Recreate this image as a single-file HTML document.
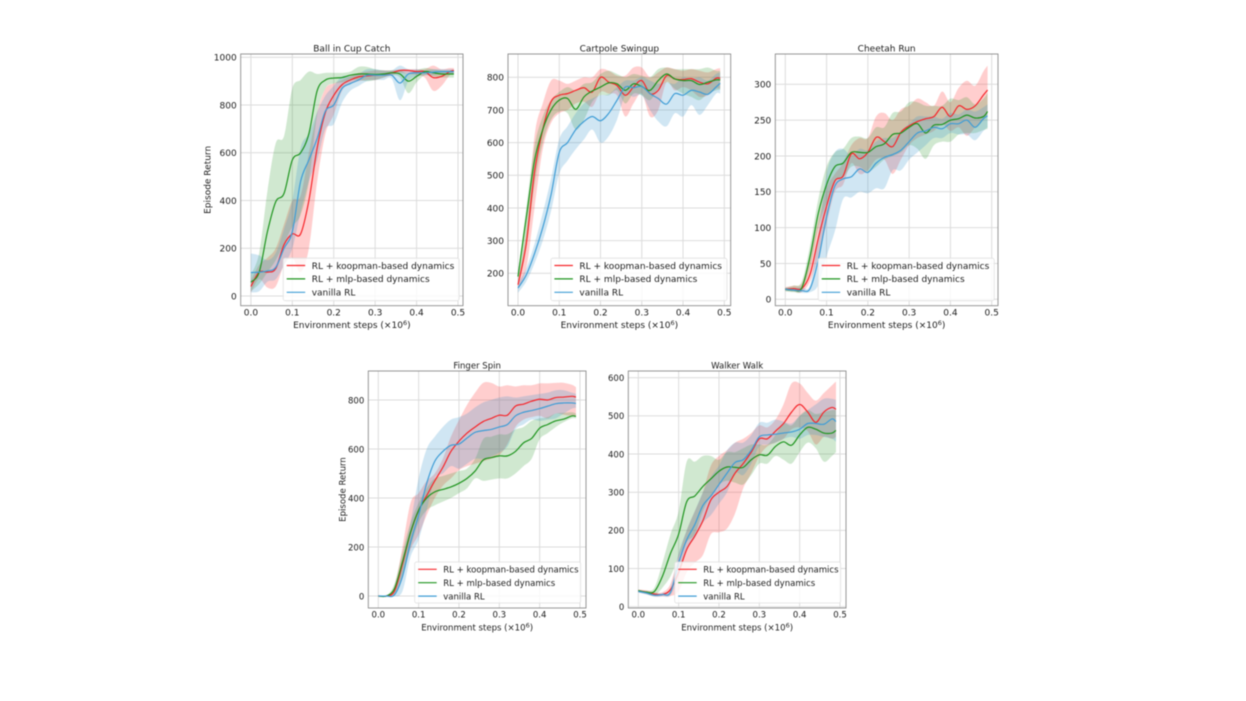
<!DOCTYPE html>
<html>
<head>
<meta charset="utf-8">
<style>
html,body{margin:0;padding:0;background:#fff;width:1246px;height:701px;overflow:hidden}
svg{display:block;filter:blur(0.45px)}
text{font-family:"DejaVu Sans","Liberation Sans",sans-serif;fill:#1c1c1c}
</style>
</head>
<body>
<svg id="chart" width="1246" height="701" viewBox="0 0 1246 701" xmlns="http://www.w3.org/2000/svg"></svg>
<script>
const steps = [0,0.02,0.04,0.06,0.08,0.10,0.12,0.14,0.16,0.18,0.20,0.22,0.24,0.26,0.28,0.30,0.32,0.34,0.36,0.38,0.40,0.42,0.44,0.46,0.48,0.49];
const xTickValues = [0,0.1,0.2,0.3,0.4,0.5];
const seriesLabels = ["RL + koopman-based dynamics","RL + mlp-based dynamics","vanilla RL"];

const ballTicks = [0,200,400,600,800,1000];
const ballRed = [40,100,100,115,215,260,260,400,620,770,840,885,905,918,922,925,928,935,945,945,940,940,915,920,940,945];
const ballRedLow = [15,70,35,40,130,160,100,200,480,680,760,860,890,900,905,905,915,925,935,930,925,915,860,880,925,930];
const ballRedHigh = [65,130,160,200,300,400,420,600,770,870,890,905,920,935,940,945,945,945,950,950,950,950,965,950,955,955];
const ballGreen = [58,100,270,395,430,570,600,680,860,905,913,915,925,930,930,928,930,935,930,900,920,940,935,930,930,930];
const ballGreenLow = [20,50,100,150,220,290,340,480,760,870,890,895,905,905,900,905,915,925,915,850,895,925,920,915,915,915];
const ballGreenHigh = [90,180,440,640,670,870,905,940,930,935,935,935,940,960,960,950,945,945,945,930,945,955,950,945,945,945];
const ballBlue = [98,100,105,120,200,270,480,570,660,775,800,870,890,905,925,925,925,925,892,930,935,935,938,940,940,940];
const ballBlueLow = [15,20,60,70,130,200,350,480,570,700,720,810,860,880,900,905,905,910,820,900,920,925,925,930,930,930];
const ballBlueHigh = [178,170,150,180,280,400,620,680,770,840,880,920,920,930,950,950,945,945,965,950,950,945,950,950,950,950];

const cartTicks = [200,300,400,500,600,700,800];
const cartRed = [165,290,510,640,725,745,750,760,768,755,800,785,775,745,770,790,750,760,805,795,793,796,785,780,797,797];
const cartRedLow = [155,215,400,580,660,690,700,720,725,710,755,750,745,680,720,750,680,700,785,760,770,760,740,745,765,765];
const cartRedHigh = [180,330,620,720,790,790,780,790,800,800,825,820,805,805,830,830,800,815,830,825,820,825,820,815,825,828];
const cartGreen = [190,370,545,640,700,730,735,702,740,758,770,783,780,760,780,772,760,790,810,795,790,790,778,785,792,792];
const cartGreenLow = [178,280,470,600,670,695,690,640,670,725,745,745,760,720,750,745,730,765,785,765,750,740,730,750,760,762];
const cartGreenHigh = [200,400,590,680,730,755,770,760,780,785,810,820,810,800,810,805,800,825,830,825,825,825,825,830,820,820];
const cartBlue = [155,195,260,340,440,570,600,640,665,680,667,690,730,770,768,772,750,735,718,750,745,760,755,748,770,782];
const cartBlueLow = [140,175,230,300,390,505,545,580,610,640,600,620,670,745,740,745,700,665,650,690,680,715,685,715,750,750];
const cartBlueHigh = [170,215,290,385,490,610,650,690,720,735,745,748,770,790,790,800,790,780,785,780,800,795,800,790,810,815];

const cheetahTicks = [0,50,100,150,200,250,300];
const cheetahRed = [14,15,15,35,85,130,165,172,203,196,205,226,220,213,233,242,248,252,255,268,255,270,265,270,285,292];
const cheetahRedLow = [12,11,10,25,60,105,150,160,190,175,180,195,195,175,195,215,225,230,235,245,235,240,228,240,250,258];
const cheetahRedHigh = [17,19,22,60,110,155,175,190,215,225,225,255,260,250,265,270,280,275,270,290,275,295,305,298,318,326];
const cheetahGreen = [14,13,16,60,120,160,185,190,205,205,205,213,217,230,232,240,245,232,243,244,250,252,257,253,255,262];
const cheetahGreenLow = [11,10,12,45,100,135,165,170,185,185,178,185,195,200,205,215,210,196,215,220,220,230,232,232,236,238];
const cheetahGreenHigh = [16,19,25,75,140,185,205,210,225,227,225,240,240,260,262,275,275,270,270,270,280,278,282,272,280,288];
const cheetahBlue = [14,13,12,15,55,115,158,168,171,182,177,190,198,202,208,220,232,235,240,238,245,245,250,240,252,256];
const cheetahBlueLow = [12,11,9,10,20,60,95,140,142,150,148,155,155,180,180,195,205,215,225,225,232,230,230,222,235,240];
const cheetahBlueHigh = [16,16,17,20,90,175,205,210,200,210,208,220,225,225,235,245,255,255,255,252,260,258,265,262,268,272];

const fingerTicks = [0,200,400,600,800];
const fingerRed = [0,0,20,130,260,350,410,470,525,590,632,665,690,712,725,738,738,775,783,795,803,800,810,812,815,812];
const fingerRedLow = [0,-3,5,80,190,250,330,400,450,480,514,530,540,550,560,575,620,690,720,730,735,725,745,740,735,735];
const fingerRedHigh = [0,3,40,200,380,420,470,500,560,650,718,780,830,870,870,855,860,855,860,860,868,868,870,870,862,852];
const fingerGreen = [0,0,30,140,260,350,400,425,435,445,460,480,510,555,565,572,572,590,625,643,685,700,715,722,735,733];
const fingerGreenLow = [0,0,10,90,200,300,350,370,385,400,420,440,480,470,475,480,480,500,530,560,640,665,690,710,725,725];
const fingerGreenHigh = [0,0,50,180,300,380,440,480,490,500,510,520,560,640,650,660,660,680,690,715,725,730,745,748,750,745];
const fingerBlue = [0,0,5,80,220,330,460,550,590,615,620,645,668,675,680,690,700,735,750,757,765,775,785,788,788,786];
const fingerBlueLow = [0,0,-2,20,160,230,350,480,500,530,520,540,560,560,570,585,610,680,700,720,715,720,725,745,765,768];
const fingerBlueHigh = [0,0,15,150,300,480,600,650,690,720,730,745,770,790,800,810,815,810,815,820,825,830,840,840,830,825];

const walkerTicks = [0,100,200,300,400,500,600];
const walkerRed = [41,38,33,32,45,90,150,185,225,280,300,315,350,375,405,440,440,460,480,510,530,510,483,510,522,517];
const walkerRedLow = [38,33,27,27,28,40,90,115,135,190,195,205,245,310,350,395,420,430,440,465,470,460,425,445,440,445];
const walkerRedHigh = [45,43,38,38,60,135,200,250,300,370,395,410,430,440,455,475,470,490,530,585,585,560,540,560,580,590];
const walkerGreen = [42,38,40,80,140,190,275,290,315,335,355,366,365,365,385,398,397,420,432,423,450,470,465,455,455,462];
const walkerGreenLow = [40,34,30,50,80,130,170,190,250,290,320,330,325,320,345,375,375,395,385,375,405,430,415,380,395,405];
const walkerGreenHigh = [45,42,50,115,190,250,380,380,395,395,385,405,405,415,425,425,425,450,480,475,500,515,505,510,515,515];
const walkerBlue = [40,36,30,32,38,115,175,215,265,290,320,350,378,385,410,445,450,452,455,458,465,480,480,478,492,485];
const walkerBlueLow = [37,32,26,27,30,80,150,180,220,240,270,300,350,345,375,420,425,430,440,445,440,450,450,445,440,432];
const walkerBlueHigh = [44,40,35,36,50,140,200,250,300,340,370,410,430,430,450,482,482,490,485,480,500,515,530,545,545,542];

const panels = [
  {slug:"ball-in-cup-catch", title:"Ball in Cup Catch", yTitle:"Episode Return", font:9, frame:{l:240.7,r:463,t:54,b:305.7}, x0:250.9, x5:458, yLo:0, yLoPx:296, yHi:1000, yHiPx:57.3, ticks:ballTicks,
   red:[ballRed,ballRedLow,ballRedHigh], green:[ballGreen,ballGreenLow,ballGreenHigh], blue:[ballBlue,ballBlueLow,ballBlueHigh]},
  {slug:"cartpole-swingup", title:"Cartpole Swingup", yTitle:"", font:9, frame:{l:508,r:730.7,t:54,b:305.7}, x0:518, x5:724.3, yLo:200, yLoPx:273.3, yHi:800, yHiPx:77.3, ticks:cartTicks,
   red:[cartRed,cartRedLow,cartRedHigh], green:[cartGreen,cartGreenLow,cartGreenHigh], blue:[cartBlue,cartBlueLow,cartBlueHigh]},
  {slug:"cheetah-run", title:"Cheetah Run", yTitle:"", font:9, frame:{l:775.3,r:998,t:54,b:305.7}, x0:785.3, x5:991.7, yLo:0, yLoPx:299.3, yHi:300, yHiPx:84.3, ticks:cheetahTicks,
   red:[cheetahRed,cheetahRedLow,cheetahRedHigh], green:[cheetahGreen,cheetahGreenLow,cheetahGreenHigh], blue:[cheetahBlue,cheetahBlueLow,cheetahBlueHigh]},
  {slug:"finger-spin", title:"Finger Spin", yTitle:"Episode Return", font:8.55, frame:{l:368.3,r:586,t:371,b:608}, x0:378.3, x5:580, yLo:0, yLoPx:596, yHi:800, yHiPx:400, ticks:fingerTicks,
   red:[fingerRed,fingerRedLow,fingerRedHigh], green:[fingerGreen,fingerGreenLow,fingerGreenHigh], blue:[fingerBlue,fingerBlueLow,fingerBlueHigh]},
  {slug:"walker-walk", title:"Walker Walk", yTitle:"", font:8.55, frame:{l:628.3,r:846,t:371,b:608}, x0:638.3, x5:840, yLo:0, yLoPx:606.7, yHi:600, yHiPx:377.7, ticks:walkerTicks,
   red:[walkerRed,walkerRedLow,walkerRedHigh], green:[walkerGreen,walkerGreenLow,walkerGreenHigh], blue:[walkerBlue,walkerBlueLow,walkerBlueHigh]}
];

const lineColors = {red:"#f6262b", green:"#1f951f", blue:"#3f9dd6"};
const bandColors = {red:"rgba(255,60,60,0.25)", green:"rgba(40,150,40,0.22)", blue:"rgba(60,150,205,0.24)"};
const NS = "http://www.w3.org/2000/svg";
const root = document.getElementById("chart");

function make(tag, attrs, parent){
  const el = document.createElementNS(NS, tag);
  for (const k in attrs) el.setAttribute(k, attrs[k]);
  parent.appendChild(el);
  return el;
}
function splineSegments(pts){
  let d = "";
  for (let i = 0; i < pts.length - 1; i++){
    const p0 = pts[Math.max(i-1,0)], p1 = pts[i], p2 = pts[i+1], p3 = pts[Math.min(i+2,pts.length-1)];
    const c1x = p1[0] + (p2[0]-p0[0])/6, c1y = p1[1] + (p2[1]-p0[1])/6;
    const c2x = p2[0] - (p3[0]-p1[0])/6, c2y = p2[1] - (p3[1]-p1[1])/6;
    d += "C" + c1x.toFixed(2) + " " + c1y.toFixed(2) + " " + c2x.toFixed(2) + " " + c2y.toFixed(2) + " " + p2[0].toFixed(2) + " " + p2[1].toFixed(2);
  }
  return d;
}
function startAt(p){ return "M" + p[0].toFixed(2) + " " + p[1].toFixed(2); }

panels.forEach(function(p){
  const xAxis = function(v){ return p.x0 + (p.x5 - p.x0) * v / 0.5; };
  const yAxis = function(v){ return p.yLoPx + (p.yHiPx - p.yLoPx) * (v - p.yLo) / (p.yHi - p.yLo); };
  const f = p.frame;
  const lower = f.b > 400;

  const g = make("g", {}, root);
  
  

  const bg = make("rect", {x:f.l, y:f.t, width:f.r-f.l, height:f.b-f.t, fill:"#fff"}, g);
  
  

  xTickValues.forEach(function(v){
    const line = make("line", {x1:xAxis(v), x2:xAxis(v), y1:f.t, y2:f.b, stroke:"#dcdcdc", "stroke-width":1}, g);
    
    
    const t = make("text", {x:xAxis(v), y:f.b+(lower?9.5:10), "text-anchor":"middle", "font-size":p.font}, g);
    t.textContent = v.toFixed(1);
    
    
  });
  p.ticks.forEach(function(v){
    const line = make("line", {x1:f.l, x2:f.r, y1:yAxis(v), y2:yAxis(v), stroke:"#dcdcdc", "stroke-width":1}, g);
    
    
    const t = make("text", {x:f.l-4, y:yAxis(v)+3.3, "text-anchor":"end", "font-size":p.font}, g);
    t.textContent = String(v);
    
    
  });

  ["red","green","blue"].forEach(function(c){
    const s = p[c];
    const up = s[2].map(function(v,i){ return [xAxis(steps[i]), yAxis(v)]; });
    const low = s[1].map(function(v,i){ return [xAxis(steps[i]), yAxis(v)]; }).reverse();
    const bandD = startAt(up[0]) + splineSegments(up) + "L" + low[0][0].toFixed(2) + " " + low[0][1].toFixed(2) + splineSegments(low) + "Z";
    const band = make("path", {d:bandD, fill:bandColors[c], stroke:"none"}, g);
    
    
  });
  ["red","green","blue"].forEach(function(c){
    const s = p[c];
    const pts = s[0].map(function(v,i){ return [xAxis(steps[i]), yAxis(v)]; });
    const line = make("path", {d:startAt(pts[0]) + splineSegments(pts), fill:"none", stroke:lineColors[c], "stroke-width":1.2}, g);
    
    
  });

  const frame = make("rect", {x:f.l, y:f.t, width:f.r-f.l, height:f.b-f.t, fill:"none", stroke:"#8c8c8c", "stroke-width":0.9}, g);
  
  

  const title = make("text", {x:(f.l+f.r)/2, y:f.t-2.5, "text-anchor":"middle", "font-size":p.font}, g);
  title.textContent = p.title;
  
  

  const xTitle = make("text", {x:(f.l+f.r)/2, y:f.b+22.5, "text-anchor":"middle", "font-size":p.font}, g);
  
  
  const t1 = make("tspan", {}, xTitle);
  t1.textContent = "Environment steps (×10";
  const t2 = make("tspan", {"font-size":6.5, dy:-3.2}, xTitle);
  t2.textContent = "6";
  const t3 = make("tspan", {dy:3.2}, xTitle);
  t3.textContent = ")";

  if (p.yTitle){
    const cy = (f.t+f.b)/2;
    const cx = f.l - (lower ? 23 : 30);
    const yT = make("text", {x:cx, y:cy, "text-anchor":"middle", "font-size":p.font, transform:"rotate(-90 "+cx+" "+cy+")"}, g);
    yT.textContent = p.yTitle;
    
    
  }

  const lgH = lower ? 41 : 42.5;
  const wd = lower ? 166 : 176;
  const lxx = f.r - 3.8 - wd - (lower ? 1.5 : 0);
  const ly = f.b - 5 - lgH;
  const legend = make("g", {}, g);
  
  
  const box = make("rect", {x:lxx, y:ly, width:wd, height:lgH, rx:2, fill:"rgba(255,255,255,0.8)", stroke:"#e0e0e0", "stroke-width":0.8}, legend);
  
  
  ["red","green","blue"].forEach(function(c,i){
    const rowY = ly + 7.3 + i*13.4;
    const sw = make("line", {x1:lxx+3.5, x2:lxx+22, y1:rowY, y2:rowY, stroke:lineColors[c], "stroke-width":1.2}, legend);
    
    
    const txt = make("text", {x:lxx+28.5, y:rowY+3.3, "font-size":p.font}, legend);
    txt.textContent = seriesLabels[i];
    
    
  });
});
</script>
</body>
</html>
